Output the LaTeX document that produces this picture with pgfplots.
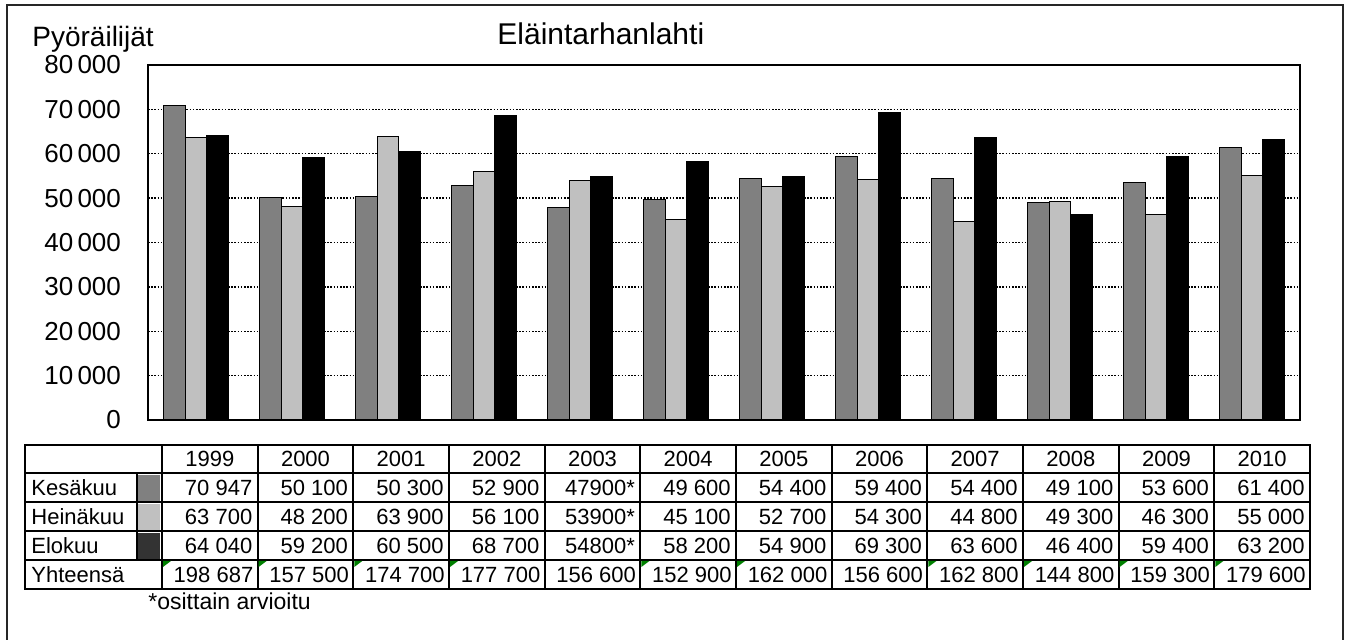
\documentclass[border=0pt]{standalone}
\usepackage{pgfplots}
\pgfplotsset{compat=1.18}
\usepackage{pgfplotstable}
\usepackage{fontspec}
\setmainfont{Liberation Sans}

\definecolor{kesa}{HTML}{808080}
\definecolor{heina}{HTML}{C0C0C0}
\definecolor{elo}{HTML}{000000}
\definecolor{elosw}{HTML}{333333}
\definecolor{xlgreen}{HTML}{008000}

% x = vuosi (0 = 1999)
\pgfplotstableread{
x  kesa  heina elo
0  70947 63700 64040
1  50100 48200 59200
2  50300 63900 60500
3  52900 56100 68700
4  47900 53900 54800
5  49600 45100 58200
6  54400 52700 54900
7  59400 54300 69300
8  54400 44800 63600
9  49100 49300 46400
10 53600 46300 59400
11 61400 55000 63200
}\pyorat

\newcommand\tfont{\fontsize{11}{12}\selectfont}

\begin{document}
\begin{tikzpicture}
\useasboundingbox (0,0) rectangle (673.5pt,320pt);
\draw[line width=0.9pt, black!85] (3.5pt,-5pt) -- (3.5pt,317.5pt) -- (671.5pt,317.5pt) -- (671.5pt,-5pt);

\begin{axis}[
    at={(74pt,110pt)}, anchor=south west,
    scale only axis, width=576pt, height=177.5pt,
    xmin=-0.5, xmax=11.5, ymin=0, ymax=80000,
    ybar=0pt, bar width=0.225,
    xtick=\empty,
    ytick={0,10000,...,80000},
    scaled y ticks=false,
    ymajorgrids=true,
    grid style={black, line width=0.7pt, dash pattern=on 0.8pt off 0.8pt},
    major tick length=0pt,
    axis line style={line width=0.7pt},
    yticklabel style={font=\fontsize{13}{13}\selectfont, xshift=-10pt},
    /pgf/number format/1000 sep={\,},
    /pgf/number format/assume math mode=true,
]
\addplot[fill=kesa, draw=black, line width=0.5pt] table[x=x, y=kesa] {\pyorat};
\addplot[fill=heina, draw=black, line width=0.5pt] table[x=x, y=heina] {\pyorat};
\addplot[fill=elo, draw=black, line width=0.5pt] table[x=x, y=elo] {\pyorat};
\end{axis}

\node[anchor=base west, inner sep=0, font=\fontsize{14}{14}\selectfont] at (16pt,296.8pt) {Pyöräilijät};
\node[anchor=base west, inner sep=0, font=\fontsize{15}{15}\selectfont] at (248.5pt,297.5pt) {Eläintarhanlahti};

% taulukko (pikseliyksiköt)
\begin{scope}[x=0.5pt, y=-0.5pt, shift={(0pt,320pt)}]
  \fill[kesa]  (137,475) rectangle (160,501);
  \fill[heina] (137,504) rectangle (160,530);
  \fill[elosw] (137,533) rectangle (160,559);
  \begin{scope}[line width=1pt]
    \draw (25,445) rectangle (1310,589);
    \foreach \yy in {473,502,531,560} \draw (25,\yy) -- (1310,\yy);
    \draw (137,473) -- (137,560);
    \foreach \i in {0,...,11} \draw ({162+95.667*\i},445) -- ({162+95.667*\i},589);
  \end{scope}
  \foreach \lab [count=\r from 1] in {Kesäkuu,Heinäkuu,Elokuu,Yhteensä}
    \node[anchor=base west, inner sep=0, font=\tfont] at (31,{466.5+29*\r}) {\lab};
  \foreach \v [count=\i from 0] in {1999,2000,2001,2002,2003,2004,2005,2006,2007,2008,2009,2010}
    \node[anchor=base, inner sep=0, font=\tfont] at ({162+95.667*(\i+0.5)},466.5) {\v};
  \foreach \v [count=\i from 0] in {70 947,50 100,50 300,52 900,47900*,49 600,54 400,59 400,54 400,49 100,53 600,61 400}
    \node[anchor=base east, inner sep=0, font=\tfont] at ({162+95.667*(\i+1)-5},495.5) {\v};
  \foreach \v [count=\i from 0] in {63 700,48 200,63 900,56 100,53900*,45 100,52 700,54 300,44 800,49 300,46 300,55 000}
    \node[anchor=base east, inner sep=0, font=\tfont] at ({162+95.667*(\i+1)-5},524.5) {\v};
  \foreach \v [count=\i from 0] in {64 040,59 200,60 500,68 700,54800*,58 200,54 900,69 300,63 600,46 400,59 400,63 200}
    \node[anchor=base east, inner sep=0, font=\tfont] at ({162+95.667*(\i+1)-5},553.5) {\v};
  \foreach \v [count=\i from 0] in {198 687,157 500,174 700,177 700,156 600,152 900,162 000,156 600,162 800,144 800,159 300,179 600}
    \node[anchor=base east, inner sep=0, font=\tfont] at ({162+95.667*(\i+1)-4},582.5) {\v};
  \foreach \i in {0,1,2,3,5,6,8,9,10,11}
    \fill[xlgreen] ({162+95.667*\i+1},561) -- ++(8,0) -- ++(-8,6) -- cycle;
  \node[anchor=base west, inner sep=0, font=\fontsize{11.5}{12}\selectfont] at (148,610) {*osittain arvioitu};
\end{scope}
\end{tikzpicture}
\end{document}
